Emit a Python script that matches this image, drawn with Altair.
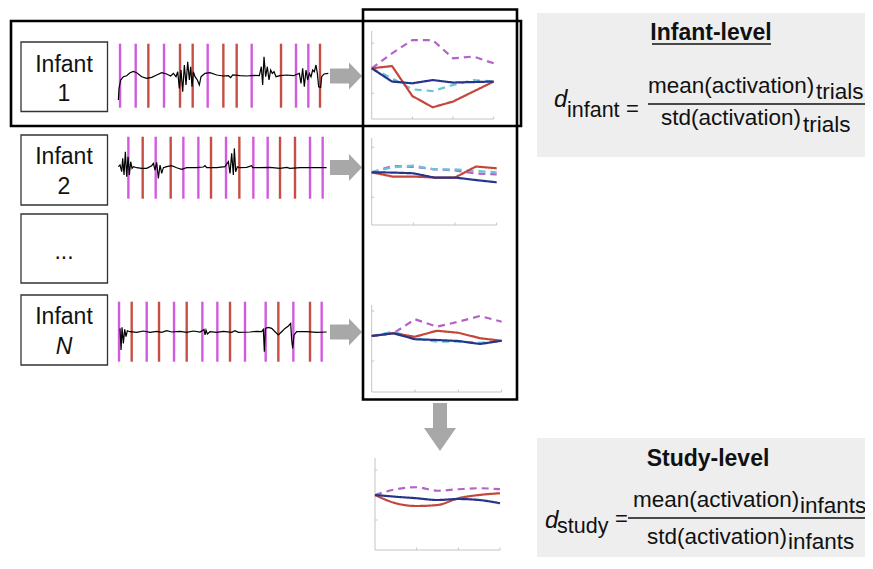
import altair as alt
import pandas as pd

# ============================ DATA ============================
# Raw signal of each infant: (sample, amplitude)
trace_inf1 = [(5,-24.3),(7,-12.7),(12,-4.3),(16,-2.7),(20,-1.0),(30,0),(40,3.0),(50,4.3),(60,3.0),(75,-1.0),
              (90,-2.7),(105,-1.7),(120,0.7),(135,3.0),(150,1.7),(162,-0.3),(170,2.3),(178,-1.0),(183,4.0),
              (188,-12.7),(193,5.7),(198,-16.0),(203,10.7),(208,-9.3),(213,14.0),(218,-4.3),(222,9.0),
              (226,-11.0),(230,4.0),(235,-1.0),(242,-4.3),(248,-9.3),(253,-1.0),(265,2.3),(280,3.0),(300,0.7),
              (320,-0.3),(335,0),(342,-2.0),(348,0.7),(370,0),(390,-0.3),(410,0.3),(428,0),(434,9.0),(438,-9.3),
              (442,19.0),(447,-1.0),(452,9.0),(457,-4.3),(462,5.7),(467,2.3),(472,4.0),(478,-1.0),(490,0),
              (510,0.7),(530,0),(548,2.3),(553,-7.7),(558,7.3),(563,-11.0),(568,5.7),(573,-4.3),(578,2.3),
              (583,-1.0),(588,5.7),(593,4.0),(598,10.7),(602,2.3),(606,-11.0),(612,-11.7),(615,-1.0),(622,1.7),
              (635,2.3)]
trace_inf2 = [(5,1.0),(10,2.7),(15,-4.0),(18,9.3),(22,-7.3),(26,16.0),(30,-9.0),(34,11.0),(38,-7.3),(42,6.0),
              (46,-0.7),(50,1.0),(60,0),(75,-0.7),(90,-0.7),(105,2.0),(110,4.3),(115,-2.3),(120,5.3),(125,-10.7),
              (130,2.7),(135,-5.7),(140,0),(150,1.0),(165,2.0),(180,0),(195,-1.7),(210,0),(240,0),(260,0.7),
              (265,2.0),(270,0),(300,0),(325,1.0),(335,6.0),(340,-5.7),(345,14.3),(350,-7.3),(353,19.3),
              (357,-4.0),(362,1.0),(370,0),(390,0.3),(405,2.0),(408,0),(430,0),(460,0.3),(490,-0.7),(510,0.3),
              (520,-0.7),(550,0),(590,0),(630,0)]
trace_infN = [(10,3.3),(13,-18.3),(16,4.3),(20,-11.7),(24,2.3),(28,-5.0),(32,1.0),(40,0),(60,-0.7),(80,0.7),
              (100,-0.7),(120,0.3),(135,-0.7),(150,1.0),(165,-0.3),(190,0.3),(210,-0.7),(230,0.7),(250,-0.3),
              (262,2.3),(265,-3.3),(268,1.7),(272,-2.3),(280,0),(300,-0.7),(320,0.3),(345,-0.7),(355,1.0),
              (365,-0.7),(400,-0.3),(420,0.3),(435,0),(440,2.3),(443,-20.0),(446,3.3),(455,4.3),(465,3.3),
              (475,0),(485,-3.3),(495,0),(505,3.3),(515,5.7),(522,8.3),(525,-8.3),(528,-16.7),(532,-3.3),
              (540,0),(570,0),(600,-0.7),(630,-0.3)]

# Stimulus onsets (samples): condition A (magenta) and B (red)
onsets_inf1_a = [10, 57, 142, 273, 405, 538, 575]
onsets_inf1_b = [95, 190, 228, 320, 360, 493, 610]
onsets_inf2_a = [35, 117, 200, 245, 328, 410, 453, 580, 618]
onsets_inf2_b = [78, 162, 283, 368, 490, 535]
onsets_infN_a = [7, 90, 172, 257, 302, 385, 447, 530, 615]
onsets_infN_b = [45, 127, 210, 340, 485, 580]

# Averaged activation over time bins (0..6) per condition
timebins = [0, 1, 2, 3, 4, 5, 6]
avg_inf1 = {"magenta": [0, 0.6, 1.13, 1.13, 0.4, 0.47, 0.2],
            "cyan":    [0, -0.4, -0.84, -0.91, -0.67, -0.47, -0.53],
            "red":     [0, 0.09, -1.11, -1.56, -1.33, -0.93, -0.53],
            "blue":    [0, -0.53, -0.6, -0.47, -0.57, -0.55, -0.53]}
avg_inf2 = {"magenta": [0, 0.25, 0.22, 0.12, 0.08, -0.05, -0.08],
            "cyan":    [0, 0.2, 0.27, 0.12, 0.12, 0.05, 0.0],
            "red":     [0, -0.17, -0.17, -0.21, -0.21, 0.23, 0.16],
            "blue":    [0, -0.01, -0.04, -0.21, -0.21, -0.31, -0.4]}
avg_infN = {"magenta": [0, 0.11, 0.67, 0.37, 0.57, 0.8, 0.57],
            "cyan":    [0, 0.17, -0.09, -0.23, -0.23, -0.27, -0.2],
            "red":     [0, 0.11, -0.03, 0.21, 0.13, -0.09, -0.19],
            "blue":    [0, 0.11, -0.13, -0.16, -0.2, -0.32, -0.19]}
avg_study = {"magenta": [0, 0.23, 0.31, 0.17, 0.23, 0.27, 0.23],
             "red":     [0, -0.33, -0.44, -0.4, -0.13, 0, 0.07],
             "blue":    [0, -0.07, -0.13, -0.2, -0.16, -0.2, -0.33]}

labels = ["Infant", "1", "Infant", "2", "...", "Infant", "N"]

# ============================ STYLE / LAYOUT ============================
OFF = 8
W, H = 857, 549
FONT = "Liberation Sans"
MAG, RED = "#cf52dd", "#c2463a"
SER = ["magenta", "cyan", "red", "blue"]
SER_COL = ["#b462c8", "#66c6d8", "#c4483a", "#27348a"]
SER_DASH = [[7, 5], [7, 5], [1, 0], [1, 0]]
SER_W = [2.2, 2.2, 1.8, 1.8]


def sx(dom, a, b):
    return alt.Scale(domain=dom, range=[a - OFF, b - OFF], nice=False, zero=False)


def sy(dom, top, bottom):
    return alt.Scale(domain=dom, range=[bottom - OFF, top - OFF], nice=False, zero=False)


CX = sx([0, 873], 0, 873)
CY = sy([569, 0], 0, 569)

layers = []

# ---- grey formula panels ----
panels = pd.DataFrame({"x": [537, 537], "x2": [873, 873], "y": [13, 438], "y2": [157, 567]})
layers.append(alt.Chart(panels).mark_rect(color="#eeeeee").encode(
    x=alt.X("x:Q", scale=CX, axis=None), x2="x2:Q", y=alt.Y("y:Q", scale=CY, axis=None), y2="y2:Q"))

# ---- label boxes ----
lb = pd.DataFrame({"x": [21] * 4, "x2": [107.5] * 4, "y": [42, 135, 214, 295], "y2": [111.5, 205, 283, 365]})
layers.append(alt.Chart(lb).mark_rect(fill="white", stroke="#333333", strokeWidth=1.3).encode(
    x=alt.X("x:Q", scale=CX, axis=None), x2="x2:Q", y=alt.Y("y:Q", scale=CY, axis=None), y2="y2:Q"))

# ---- arrows ----
shafts = pd.DataFrame({"x": [330, 330, 330, 433], "x2": [350, 350, 350, 447],
                       "y": [68.5, 160, 324.5, 403], "y2": [83.5, 175, 339.5, 429]})
layers.append(alt.Chart(shafts).mark_rect(color="#a8a8a8").encode(
    x=alt.X("x:Q", scale=CX, axis=None), x2="x2:Q", y=alt.Y("y:Q", scale=CY, axis=None), y2="y2:Q"))
heads_r = []
for k, c in enumerate([76, 167.5, 332]):
    heads_r += [{"id": k, "x": 349, "y": c - 13.5, "y2": c + 13.5}, {"id": k, "x": 362, "y": c, "y2": c}]
layers.append(alt.Chart(pd.DataFrame(heads_r)).mark_area(color="#a8a8a8", orient="vertical").encode(
    x=alt.X("x:Q", scale=CX, axis=None), y=alt.Y("y:Q", scale=CY, axis=None), y2="y2:Q", detail="id:N"))
heads_d = pd.DataFrame([{"y": 428, "x": 424, "x2": 456}, {"y": 451, "x": 440, "x2": 440}])
layers.append(alt.Chart(heads_d).mark_area(color="#a8a8a8", orient="horizontal").encode(
    y=alt.Y("y:Q", scale=CY, axis=None), x=alt.X("x:Q", scale=CX, axis=None), x2="x2:Q"))

# ---- raw traces with stimulus markers ----
T0, T1 = 116.7, 330.0
rows = [(trace_inf1, onsets_inf1_a, onsets_inf1_b, 75.7, 32),
        (trace_inf2, onsets_inf2_a, onsets_inf2_b, 167.7, 31),
        (trace_infN, onsets_infN_a, onsets_infN_b, 331.7, 30)]
for tr, oa, ob, base, half in rows:
    xs = sx([0, 640], T0, T1)
    ys = sy([-32, 32], base - 32, base + 32)
    mk = pd.DataFrame({"t": oa + ob, "cond": ["A"] * len(oa) + ["B"] * len(ob),
                       "lo": -half, "hi": half})
    marks = alt.Chart(mk).mark_rule(strokeWidth=2.4, opacity=0.95).encode(
        x=alt.X("t:Q", scale=xs, axis=None),
        y=alt.Y("lo:Q", scale=ys, axis=None), y2="hi:Q",
        color=alt.Color("cond:N", scale=alt.Scale(domain=["A", "B"], range=[MAG, RED]), legend=None))
    td = pd.DataFrame(tr, columns=["t", "v"])
    line = alt.Chart(td).mark_line(color="black", strokeWidth=1.2).encode(
        x=alt.X("t:Q", scale=xs, axis=None), y=alt.Y("v:Q", scale=ys, axis=None))
    layers.append(alt.layer(marks, line))

# ---- small averaged plots ----
UNIT = 25.0
plots = [(avg_inf1, 371.7, 493.7, 31, 119, 68.3, "linear"),
         (avg_inf2, 371.7, 496.7, 138, 225, 172.3, "linear"),
         (avg_infN, 371.7, 501.7, 305, 392, 336, "linear"),
         (avg_study, 375, 500, 458, 550, 495, "monotone")]
for avg, x0, x6, top, bottom, base, interp in plots:
    vmin = -(bottom - base) / UNIT
    vmax = (base - top) / UNIT
    xs = sx([0, 6], x0, x6)
    ys = sy([vmin, vmax], top, bottom)
    fr = pd.DataFrame({"x": [0, 0, 0, 0, 2, 4, 6], "x2": [0, 6, 0.12, 0.12, 2, 4, 6],
                       "y": [vmin, vmin, 1, -1, vmin, vmin, vmin],
                       "y2": [vmax, vmin, 1, -1, vmin + 0.1, vmin + 0.1, vmin + 0.1]})
    frame = alt.Chart(fr).mark_rule(color="#c4c4c4", strokeWidth=1).encode(
        x=alt.X("x:Q", scale=xs, axis=None), x2="x2:Q",
        y=alt.Y("y:Q", scale=ys, axis=None), y2="y2:Q")
    recs = []
    for s in SER:
        if s in avg:
            for i, v in zip(timebins, avg[s]):
                recs.append({"i": i, "v": v, "series": s})
    lines = alt.Chart(pd.DataFrame(recs)).mark_line(interpolate=interp).encode(
        x=alt.X("i:Q", scale=xs, axis=None), y=alt.Y("v:Q", scale=ys, axis=None),
        color=alt.Color("series:N", scale=alt.Scale(domain=SER, range=SER_COL), legend=None),
        strokeDash=alt.StrokeDash("series:N", scale=alt.Scale(domain=SER, range=SER_DASH), legend=None),
        strokeWidth=alt.StrokeWidth("series:N", scale=alt.Scale(domain=SER, range=SER_W), legend=None),
        order=alt.Order("i:Q"))
    layers.append(alt.layer(frame, lines))

# ---- black frames, fraction bars, underline ----
frames = pd.DataFrame({"x": [11, 363], "x2": [521, 517], "y": [21, 9.5], "y2": [126, 399.5]})
layers.append(alt.Chart(frames).mark_rect(fillOpacity=0, stroke="black", strokeWidth=2.6).encode(
    x=alt.X("x:Q", scale=CX, axis=None), x2="x2:Q", y=alt.Y("y:Q", scale=CY, axis=None), y2="y2:Q"))
bars = pd.DataFrame({"x": [648, 628, 652], "x2": [865, 865, 771], "y": [104, 518, 44]})
layers.append(alt.Chart(bars).mark_rule(color="#111111", strokeWidth=1.7).encode(
    x=alt.X("x:Q", scale=CX, axis=None), x2="x2:Q", y=alt.Y("y:Q", scale=CY, axis=None)))

# ---- texts ----
def txt(items, size, align="left", **kw):
    df = pd.DataFrame(items, columns=["text", "x", "y"])
    return alt.Chart(df).mark_text(font=FONT, fontSize=size, align=align, baseline="alphabetic",
                                   color="#111111", **kw).encode(
        x=alt.X("x:Q", scale=CX, axis=None), y=alt.Y("y:Q", scale=CY, axis=None), text="text:N")


layers.append(txt([(labels[0], 64, 72), (labels[1], 64, 101), (labels[2], 64, 164), (labels[3], 64, 194),
                   (labels[4], 64, 259), (labels[5], 64, 324)], 23, align="center"))
layers.append(txt([(labels[6], 64, 354)], 23, align="center", fontStyle="italic"))
layers.append(txt([("Infant-level", 711, 40), ("Study-level", 708, 466)], 23, align="center", fontWeight="bold"))
layers.append(txt([("d", 554, 107), ("d", 545, 528)], 24, fontStyle="italic"))
layers.append(txt([("infant", 567, 117), ("study", 557, 533)], 21.5))
layers.append(txt([("=", 626, 116), ("=", 615, 526)], 22))
layers.append(txt([("mean(activation)", 648, 93), ("std(activation)", 661, 125),
                   ("mean(activation)", 633, 507), ("std(activation)", 647, 544)], 22.5))
layers.append(txt([("trials", 816, 99), ("trials", 803, 132),
                   ("infants", 800, 513), ("infants", 788, 549)], 22.5))

chart = alt.layer(*layers).resolve_scale(
    x="independent", y="independent", color="independent",
    strokeDash="independent", strokeWidth="independent"
).properties(
    width=W, height=H, padding=0, autosize=alt.AutoSizeParams(type="none"), background="white"
).configure_view(strokeWidth=0)

chart.save("out.html", embed_options={"renderer": "svg", "actions": False})
